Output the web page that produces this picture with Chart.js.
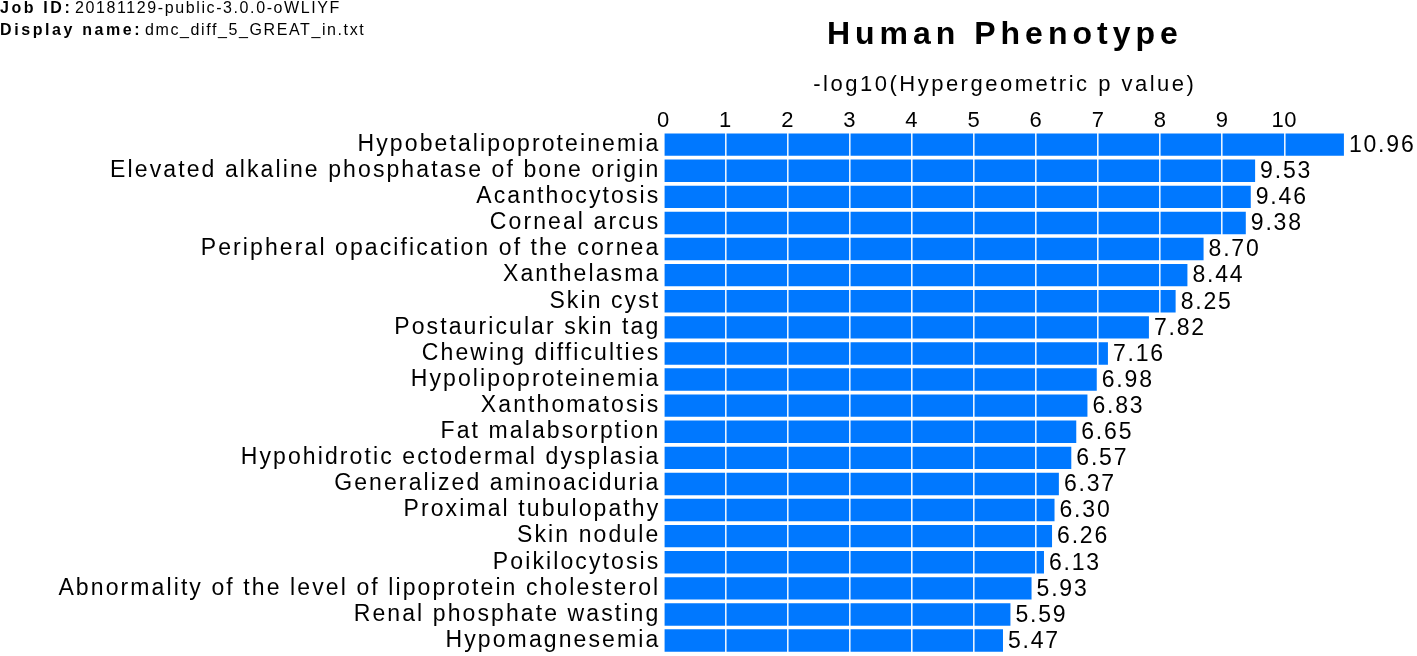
<!DOCTYPE html>
<html>
<head>
<meta charset="utf-8">
<script src="https://cdn.jsdelivr.net/npm/chart.js@4.4.1/dist/chart.umd.min.js"></script>
<style>
  html, body { margin: 0; padding: 0; background: #fff; }
  #wrap { position: relative; width: 1417px; height: 656px; }
</style>
</head>
<body>
<div id="wrap"><canvas id="c"></canvas></div>
<script>
// ---- data ----
const categories = [
  "Hypobetalipoproteinemia",
  "Elevated alkaline phosphatase of bone origin",
  "Acanthocytosis",
  "Corneal arcus",
  "Peripheral opacification of the cornea",
  "Xanthelasma",
  "Skin cyst",
  "Postauricular skin tag",
  "Chewing difficulties",
  "Hypolipoproteinemia",
  "Xanthomatosis",
  "Fat malabsorption",
  "Hypohidrotic ectodermal dysplasia",
  "Generalized aminoaciduria",
  "Proximal tubulopathy",
  "Skin nodule",
  "Poikilocytosis",
  "Abnormality of the level of lipoprotein cholesterol",
  "Renal phosphate wasting",
  "Hypomagnesemia"
];
const values = [10.96, 9.53, 9.46, 9.38, 8.70, 8.44, 8.25, 7.82, 7.16, 6.98,
                6.83, 6.65, 6.57, 6.37, 6.30, 6.26, 6.13, 5.93, 5.59, 5.47];
const xTicks = [0, 1, 2, 3, 4, 5, 6, 7, 8, 9, 10];
const titleText = "Human Phenotype";
const subtitleText = "-log10(Hypergeometric p value)";
const jobIdLabel = "Job ID:";
const jobIdValue = "20181129-public-3.0.0-oWLIYF";
const displayNameLabel = "Display name:";
const displayNameValue = "dmc_diff_5_GREAT_in.txt";

const FONT = "'Liberation Sans', Arial, sans-serif";
const BAR_COLOR = "#0078FF";

// letter spacing wrapper for boxes
const spacingPlugin = {
  id: 'spacing',
  afterLayout(chart) {
    const ctx = chart.ctx;
    chart.boxes.forEach(box => {
      if (box.__wrapped) return;
      if (box.options && box.options.text === titleText) {
        wrap(box, 'draw', '5px');
      } else if (box.options && box.options.text === subtitleText) {
        wrap(box, 'draw', '2.5px');
      } else if (box.id === 'y') {
        wrap(box, 'drawLabels', '2.1px');
      } else if (box.id === 'x') {
        wrap(box, 'drawLabels', '0.5px');
      }
    });
    function wrap(b, name, ls) {
      const orig = b[name];
      b[name] = function(...args) {
        ctx.save();
        ctx.letterSpacing = ls;
        const r = orig.apply(this, args);
        ctx.restore();
        return r;
      };
      b.__wrapped = true;
    }
  }
};

const valueLabelPlugin = {
  id: 'valueLabels',
  afterDraw(chart) {
    const ctx = chart.ctx;
    const meta = chart.getDatasetMeta(0);
    ctx.save();
    ctx.letterSpacing = '1.8px';
    ctx.font = "23px " + FONT;
    ctx.fillStyle = '#000';
    ctx.textAlign = 'left';
    ctx.textBaseline = 'middle';
    meta.data.forEach((bar, i) => {
      ctx.fillText(values[i].toFixed(2), bar.x + 5, bar.y + 1);
    });
    ctx.restore();
  }
};

const headerPlugin = {
  id: 'header',
  afterDraw(chart) {
    const ctx = chart.ctx;
    ctx.save();
    ctx.fillStyle = '#000';
    ctx.textAlign = 'left';
    ctx.textBaseline = 'middle';
    ctx.font = "bold 16px " + FONT;
    ctx.letterSpacing = '2.6px';
    ctx.fillText(jobIdLabel, 0, 9);
    ctx.fillText(displayNameLabel, 0, 31);
    ctx.font = "16px " + FONT;
    ctx.letterSpacing = '1.6px';
    ctx.fillText(jobIdValue, 75, 9);
    ctx.fillText(displayNameValue, 145, 31);
    ctx.restore();
  }
};

new Chart(document.getElementById('c'), {
  type: 'bar',
  data: {
    labels: categories,
    datasets: [{
      data: values,
      backgroundColor: BAR_COLOR,
      borderWidth: 0,
      barPercentage: 0.86,
      categoryPercentage: 1.0
    }]
  },
  options: {
    indexAxis: 'y',
    responsive: true,
    maintainAspectRatio: false,
    animation: false,
    devicePixelRatio: 1,
    layout: { padding: { left: 0, right: 70.6, top: 0, bottom: 2.4 } },
    plugins: {
      legend: { display: false },
      tooltip: { enabled: false },
      title: {
        display: true,
        text: titleText,
        fullSize: false,
        color: '#000',
        font: { family: FONT, size: 32, weight: 'bold', lineHeight: 1.2 },
        padding: { top: 16.3, bottom: 0 }
      },
      subtitle: {
        display: true,
        text: subtitleText,
        fullSize: false,
        color: '#000',
        font: { family: FONT, size: 22, weight: 'normal', lineHeight: 1.2 },
        padding: { top: 17.1, bottom: 11.4 }
      }
    },
    scales: {
      x: {
        position: 'top',
        min: 0,
        max: 11,
        afterBuildTicks(scale) {
          scale.ticks = xTicks.map(v => ({ value: v }));
        },
        grid: {
          color: 'rgba(255,255,255,0.9)',
          lineWidth: 1.6,
          drawTicks: false,
          z: 1
        },
        border: { display: false },
        ticks: {
          color: '#000',
          padding: 0,
          font: { family: FONT, size: 22, lineHeight: 1 },
          maxRotation: 0,
          autoSkip: false
        }
      },
      y: {
        afterFit(scale) {
          scale.width = 663.3;
          scale.paddingTop = 0;
          scale.paddingBottom = 0;
        },
        grid: { display: false, drawTicks: false },
        border: { display: false },
        ticks: {
          color: '#000',
          padding: 3,
          font: { family: FONT, size: 23 },
          autoSkip: false
        }
      }
    }
  },
  plugins: [spacingPlugin, valueLabelPlugin, headerPlugin]
});
</script>
</body>
</html>
